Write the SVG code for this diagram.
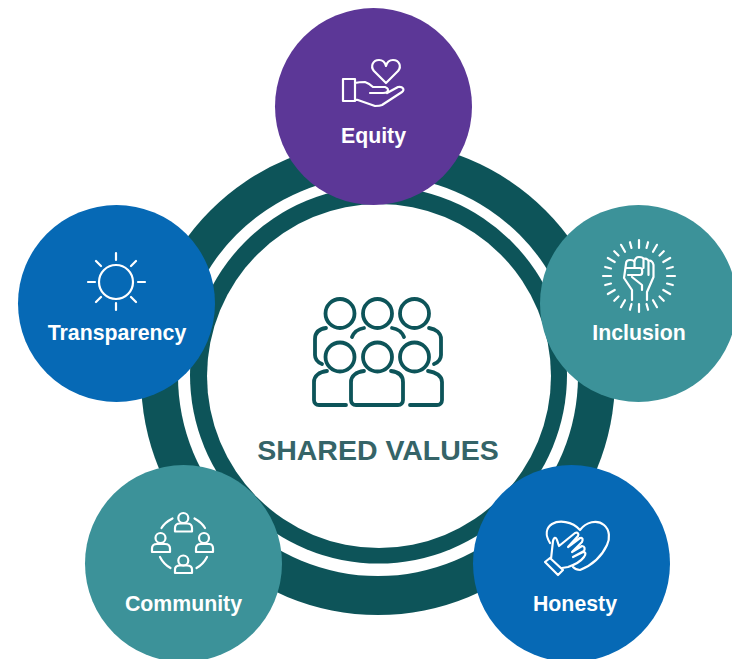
<svg xmlns="http://www.w3.org/2000/svg" width="732" height="659" viewBox="0 0 732 659">
<style>
.lbl{font-family:"Liberation Sans",Arial,sans-serif;font-weight:700;font-size:21.300px;fill:#fff;text-anchor:middle}
.ic{fill:none;stroke:#fff;stroke-width:2.200;stroke-linecap:round;stroke-linejoin:round}
.big{fill:none;stroke:#0d5459;stroke-width:3.800;stroke-linecap:round;stroke-linejoin:round}
.purple{fill:#5c3797}.teal{fill:#3c9299}.blue{fill:#0669b5}
.dark{fill:#0d5459}.white{fill:#fff}
</style>
<defs>
<path id="rl" d="M639 240v8"/>
<path id="rs" d="M639 241v6"/>
</defs>
<rect width="732" height="659" fill="#fff"/>
<g id="connectors">
<circle class="dark" cx="378" cy="378" r="237"/>
<circle class="white" cx="378" cy="376" r="200"/>
<circle class="dark" cx="378.500" cy="375" r="188.500"/>
<circle class="white" cx="379" cy="376" r="172"/>
</g>
<g id="center">
<g class="big">
<circle cx="340" cy="313.500" r="14.500"/><circle cx="377.500" cy="313.500" r="14.500"/><circle cx="414.500" cy="313.500" r="14.500"/>
<circle cx="340" cy="357" r="14.500"/><circle cx="377.500" cy="357" r="14.500"/><circle cx="414.500" cy="357" r="14.500"/>
<path d="M326 328C319 329 315 333 315 339V355C315 359 317 362 322 364"/>
<path d="M429 328C436 329 441 333 441 339V355C441 359 439 362 434 364"/>
<path d="M352 337C354 332 358 329 364 328M404 337C402 332 398 329 392 328"/>
<path d="M327 371C319 372 314 376 314 382V400C314 403 316 405 319 405H346"/>
<path d="M428 371C436 372 442 376 442 382V400C442 403 440 405 437 405H410"/>
<path d="M364 371C356 372 351 376 351 382V400C351 403 353 405 356 405H398C401 405 403 403 403 400V382C403 376 399 372 391 371"/>
</g>
<text x="378" y="460" font-family="'Liberation Sans',Arial,sans-serif" font-weight="700" font-size="28.500" fill="#356468" text-anchor="middle">SHARED VALUES</text>
</g>
<g id="equity">
<circle class="purple" cx="373.500" cy="106.500" r="98.500"/>
<path class="ic" d="M386 83L374 71C370 66 373 60 379 60C382 60 385 62 386 66C387 62 390 60 393 60C399 60 402 66 398 71Z"/>
<path class="ic" d="M343 79H355V101H343ZM355 83C359 82 362 82 365 82C368 83 371 85 373 87H385C388 88 389 90 387 92C386 93 384 93 383 93H370M355 99L375 106C378 106 380 106 382 105L402 92C405 90 403 86 398 87L387 93"/>
<text class="lbl" x="373.500" y="143">Equity</text>
</g>
<g id="inclusion">
<circle class="teal" cx="638.500" cy="303.500" r="98.500"/>
<path class="ic" d="M632 300V290L624 278L626 264C626 261 628 260 630 260C632 260 634 260 634.500 262C635 258 637 257 639 257C641 257 643 257 643.500 259C645 258 648 259 648.500 261C651 260 653 262 653.500 265V277L647 292V300M634.500 262V268M643.500 259V268M648.500 261V275M626 268H640C643 268 643 275 640 275H628M632 277L642 285V290"/>
<g stroke="#fff" stroke-width="2.200" stroke-linecap="round" id="rays">
<use href="#rl"/><use href="#rs" transform="rotate(15 639 276)"/><use href="#rl" transform="rotate(30 639 276)"/><use href="#rs" transform="rotate(45 639 276)"/><use href="#rl" transform="rotate(60 639 276)"/><use href="#rs" transform="rotate(75 639 276)"/><use href="#rl" transform="rotate(90 639 276)"/><use href="#rs" transform="rotate(105 639 276)"/><use href="#rl" transform="rotate(120 639 276)"/><use href="#rs" transform="rotate(135 639 276)"/><use href="#rl" transform="rotate(150 639 276)"/><use href="#rs" transform="rotate(165 639 276)"/><use href="#rl" transform="rotate(180 639 276)"/><use href="#rs" transform="rotate(195 639 276)"/><use href="#rl" transform="rotate(210 639 276)"/><use href="#rs" transform="rotate(225 639 276)"/><use href="#rl" transform="rotate(240 639 276)"/><use href="#rs" transform="rotate(255 639 276)"/><use href="#rl" transform="rotate(270 639 276)"/><use href="#rs" transform="rotate(285 639 276)"/><use href="#rl" transform="rotate(300 639 276)"/><use href="#rs" transform="rotate(315 639 276)"/><use href="#rl" transform="rotate(330 639 276)"/><use href="#rs" transform="rotate(345 639 276)"/>
</g>
<text class="lbl" x="639" y="340">Inclusion</text>
</g>
<g id="honesty">
<circle class="blue" cx="571.500" cy="563.500" r="98.500"/>
<path class="ic" d="M550 543C545 535 546 528 552 524C559 520 572 521 580 530C586 522 597 519 604 525C610 530 610 539 607 545C601 558 590 566 580 570C577 570 575 569 573 567"/>
<path class="ic" d="M551 559L553 541C554 537 556 537 557 540L559 546L575 533C578 532 579 534 578 536L568 547L580 538C583 537 583 540 582 542L572 552L582 546C585 546 585 549 584 551L573 557L583 552C586 552 586 554 584 557C581 561 574 565 568 567L562 568M545 562L550 558L563 570L558 575Z"/>
<text class="lbl" x="575" y="611">Honesty</text>
</g>
<g id="community">
<circle class="teal" cx="183.500" cy="563.500" r="98.500"/>
<g class="ic">
<circle cx="183.300" cy="518" r="5"/><path d="M175 531.500V528C175 525 177 523.500 180 523.500H187C190 523.500 192 525 192 528V531.500Z"/>
<circle cx="160.500" cy="538" r="5"/><path d="M152 552V548.500C152 545.500 154 544 157 544H165C168 544 170 545.500 170 548.500V552Z"/>
<circle cx="204" cy="538" r="5"/><path d="M196 552V548.500C196 545.500 198 544 201 544H209C212 544 213 545.500 213 548.500V552Z"/>
<circle cx="183.300" cy="560.500" r="5"/><path d="M175 573V569.500C175 567 177 565.500 180 565.500H187C190 565.500 192 567 192 569.500V573Z"/>
<path d="M161.500 528C164 524 167.500 521 172.500 518.500M194.500 518.500C199 521 202.500 524 205 528M160 557C162.500 562 166 565.500 170.500 568M207 557C204.500 562 201 565.500 196.500 568"/>
</g>
<text class="lbl" x="183.500" y="611">Community</text>
</g>
<g id="transparency">
<circle class="blue" cx="116.500" cy="303.500" r="98.500"/>
<g class="ic">
<circle cx="116" cy="282" r="17"/>
<path d="M116 253V260M116 303V310M88 282H95M138 282H145M96 261L101 266M136 261L131 266M96 302L101 297M136 302L131 297"/>
</g>
<text class="lbl" x="117" y="340">Transparency</text>
</g>
</svg>
